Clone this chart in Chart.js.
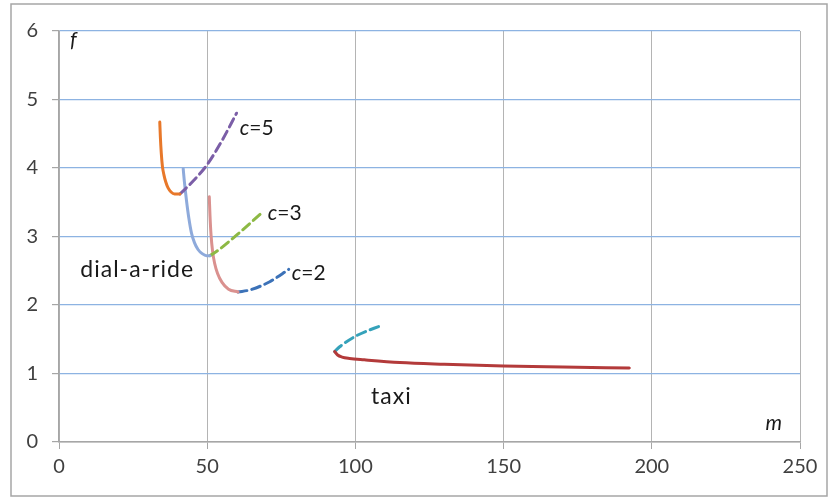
<!DOCTYPE html>
<html>
<head>
<meta charset="utf-8">
<script src="https://cdn.jsdelivr.net/npm/chart.js@4"></script>
<style>
  body { margin: 0; background: #fff; }
  canvas { display: block; }
</style>
</head>
<body>
<canvas id="chart" width="830" height="499"></canvas>
<script>
// axis ticks
const xTicks = [0, 50, 100, 150, 200, 250];
const yTicks = [0, 1, 2, 3, 4, 5, 6];

// dial-a-ride curves (solid) and their continuations (dashed)
const c5SolidX = [34.0, 34.2, 34.5, 34.9, 35.4, 36.0, 36.8, 37.8, 39.0, 40.8];
const c5SolidY = [4.67, 4.45, 4.22, 4.02, 3.90, 3.80, 3.71, 3.65, 3.62, 3.62];
const c5DashX = [40.8, 45.5, 50.0, 55.0, 59.9];
const c5DashY = [3.62, 3.82, 4.05, 4.40, 4.80];

const c3SolidX = [41.9, 42.3, 43.0, 43.8, 44.7, 45.7, 46.9, 48.3, 49.8, 50.9];
const c3SolidY = [3.99, 3.80, 3.53, 3.27, 3.05, 2.91, 2.81, 2.75, 2.72, 2.72];
const c3DashX = [50.9, 53.1, 59.9, 68.3];
const c3DashY = [2.72, 2.78, 3.02, 3.34];

const c2SolidX = [50.7, 50.95, 51.3, 51.8, 52.5, 53.5, 55.0, 57.2, 60.4];
const c2SolidY = [3.58, 3.30, 3.02, 2.79, 2.61, 2.46, 2.33, 2.23, 2.19];
const c2DashX = [60.4, 64.4, 71.1, 77.5];
const c2DashY = [2.19, 2.22, 2.34, 2.52];

// taxi
const taxiSolidX = [93.0, 94.0, 95.5, 98.0, 103.0, 115.0, 130.0, 150.0, 170.0, 192.4];
const taxiSolidY = [1.32, 1.27, 1.24, 1.22, 1.20, 1.16, 1.135, 1.11, 1.095, 1.08];
const taxiDashX = [93.0, 94.7, 100.3, 109.3];
const taxiDashY = [1.32, 1.39, 1.55, 1.71];

// text labels (data coordinates of text anchor)
const noteText = ['f', 'm', 'dial-a-ride', 'taxi', 'c=5', 'c=3', 'c=2'];
const noteX = [3.7, 238.4, 7.2, 105.3, 61.0, 70.4, 78.5];
const noteY = [5.87, 0.28, 2.51, 0.66, 4.58, 3.34, 2.47];

const FONT = 'Lato, "Open Sans", sans-serif';

function pts(xs, ys) {
  return xs.map((x, i) => ({ x: x, y: ys[i] }));
}

function line(xs, ys, color, dashed) {
  return {
    data: pts(xs, ys),
    borderColor: color,
    borderWidth: 3,
    borderDash: dashed ? [9, 5] : [],
    borderCapStyle: 'round',
    pointRadius: 0,
    showLine: true,
    fill: false,
    cubicInterpolationMode: 'monotone'
  };
}

const notesPlugin = {
  id: 'notes',
  beforeDraw(chart) {
    const { ctx } = chart;
    ctx.save();
    ctx.strokeStyle = '#a6a6a6';
    ctx.lineWidth = 1.5;
    ctx.strokeRect(11, 4, 816, 492);
    ctx.restore();
  },
  afterDatasetsDraw(chart) {
    const { ctx, scales: { x, y } } = chart;
    ctx.save();
    ctx.fillStyle = '#1a1a1a';
    ctx.textBaseline = 'middle';
    ctx.textAlign = 'left';
    noteText.forEach((t, i) => {
      let px = x.getPixelForValue(noteX[i]);
      const py = y.getPixelForValue(noteY[i]);
      ctx.letterSpacing = '0px';
      if (t === 'f' || t === 'm') {
        ctx.font = 'italic 21px ' + FONT;
        ctx.fillText(t, px, py);
      } else if (t.startsWith('c=')) {
        ctx.font = 'italic 21px ' + FONT;
        ctx.fillText('c', px, py);
        px += ctx.measureText('c').width;
        ctx.font = '21px ' + FONT;
        ctx.fillText(t.slice(1), px, py);
      } else {
        ctx.font = '23px ' + FONT;
        ctx.letterSpacing = '1px';
        ctx.fillText(t, px, py);
      }
    });
    ctx.restore();
  }
};

new Chart(document.getElementById('chart'), {
  type: 'scatter',
  data: {
    datasets: [
      line(c5SolidX, c5SolidY, '#e8782a', false),
      line(c5DashX, c5DashY, '#7b5ea7', true),
      line(c3SolidX, c3SolidY, '#8eaadb', false),
      line(c3DashX, c3DashY, '#8db944', true),
      line(c2SolidX, c2SolidY, '#da918f', false),
      line(c2DashX, c2DashY, '#3c72b8', true),
      line(taxiSolidX, taxiSolidY, '#b33a3a', false),
      line(taxiDashX, taxiDashY, '#35a2ba', true)
    ]
  },
  options: {
    responsive: false,
    animation: false,
    layout: { padding: { left: 0, right: 30, top: 31, bottom: 0 } },
    plugins: {
      legend: { display: false },
      tooltip: { enabled: false }
    },
    scales: {
      x: {
        type: 'linear',
        min: xTicks[0],
        max: xTicks[xTicks.length - 1],
        afterFit(scale) { scale.height = 57; },
        afterBuildTicks(scale) { scale.ticks = xTicks.map(v => ({ value: v })); },
        grid: { color: '#b4b4b4', lineWidth: 1, tickLength: 7, tickColor: '#a6a6a6' },
        border: { color: '#a6a6a6', width: 1.5 },
        ticks: { font: { family: FONT, size: 20 }, color: '#404040', padding: 6, maxRotation: 0 }
      },
      y: {
        min: yTicks[0],
        max: yTicks[yTicks.length - 1],
        afterFit(scale) { scale.width = 59; },
        afterBuildTicks(scale) { scale.ticks = yTicks.map(v => ({ value: v })); },
        grid: {
          color: ctx => (ctx.tick && ctx.tick.value === 0 ? '#a6a6a6' : '#8db3e2'),
          lineWidth: 1.2,
          tickLength: 7,
          tickColor: '#a6a6a6'
        },
        border: { color: '#a6a6a6', width: 1.5 },
        ticks: { font: { family: FONT, size: 20 }, color: '#404040', padding: 14 }
      }
    }
  },
  plugins: [notesPlugin]
});
</script>
</body>
</html>
